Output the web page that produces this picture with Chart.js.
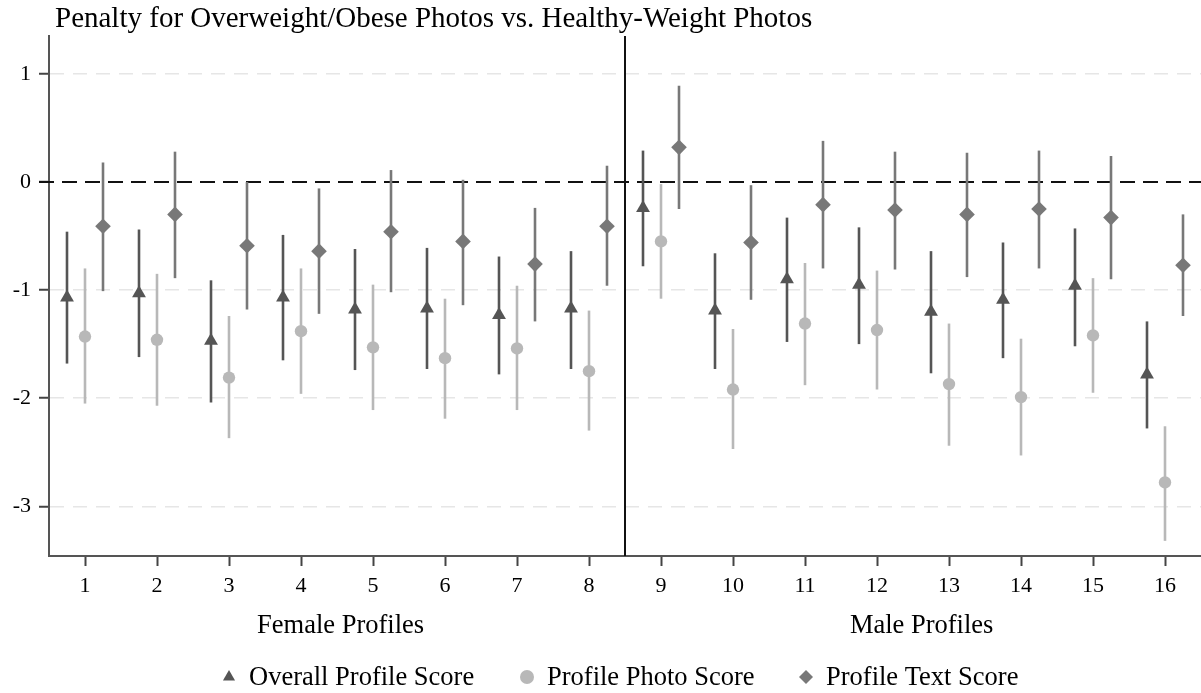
<!DOCTYPE html>
<html lang="en">
<head>
<meta charset="UTF-8">
<title>Penalty for Overweight/Obese Photos</title>
<script src="https://cdn.jsdelivr.net/npm/chart.js"></script>
<style>
  body { margin: 0; background: #fff; }
  .chart { width: 1201px; height: 693px; }
</style>
</head>
<body>
<div class="chart"><canvas id="myChart"></canvas></div>

<script>
  // profiles 1-8 female, 9-16 male
  const profiles = [1, 2, 3, 4, 5, 6, 7, 8, 9, 10, 11, 12, 13, 14, 15, 16];
  const yTicks = [1, 0, -1, -2, -3];

  const overall     = [-1.07, -1.03, -1.47, -1.07, -1.18, -1.17, -1.23, -1.17, -0.24, -1.19, -0.90, -0.95, -1.20, -1.09, -0.96, -1.78];
  const overallLow  = [-1.68, -1.62, -2.04, -1.65, -1.74, -1.73, -1.78, -1.73, -0.78, -1.73, -1.48, -1.50, -1.77, -1.63, -1.52, -2.28];
  const overallHigh = [-0.46, -0.44, -0.91, -0.49, -0.62, -0.61, -0.69, -0.64, 0.29, -0.66, -0.33, -0.42, -0.64, -0.56, -0.43, -1.29];

  const photo     = [-1.43, -1.46, -1.81, -1.38, -1.53, -1.63, -1.54, -1.75, -0.55, -1.92, -1.31, -1.37, -1.87, -1.99, -1.42, -2.78];
  const photoLow  = [-2.05, -2.07, -2.37, -1.96, -2.11, -2.19, -2.11, -2.30, -1.08, -2.47, -1.88, -1.92, -2.44, -2.53, -1.95, -3.32];
  const photoHigh = [-0.80, -0.85, -1.24, -0.80, -0.95, -1.08, -0.96, -1.19, -0.02, -1.36, -0.75, -0.82, -1.31, -1.45, -0.89, -2.26];

  const text     = [-0.41, -0.30, -0.59, -0.64, -0.46, -0.55, -0.76, -0.41, 0.32, -0.56, -0.21, -0.26, -0.30, -0.25, -0.33, -0.77];
  const textLow  = [-1.01, -0.89, -1.18, -1.22, -1.02, -1.14, -1.29, -0.96, -0.25, -1.09, -0.80, -0.81, -0.88, -0.80, -0.90, -1.24];
  const textHigh = [0.18, 0.28, 0.00, -0.06, 0.11, 0.02, -0.24, 0.15, 0.89, -0.03, 0.38, 0.28, 0.27, 0.29, 0.24, -0.30];

  const serif = '"Liberation Serif", "Times New Roman", serif';
  Chart.defaults.font.family = serif;

  function points(vals, lows, highs, shift) {
    return profiles.map((p, i) => ({ x: p + shift, y: vals[i], low: lows[i], high: highs[i] }));
  }

  const errorBars = {
    id: 'errorBars',
    beforeDatasetsDraw(chart) {
      const ctx = chart.ctx, x = chart.scales.x, y = chart.scales.y, area = chart.chartArea;
      ctx.save();
      // reference line at 0
      ctx.strokeStyle = '#111';
      ctx.lineWidth = 2;
      ctx.setLineDash([15, 8]);
      ctx.beginPath();
      ctx.moveTo(area.left - 10, y.getPixelForValue(0));
      ctx.lineTo(area.right, y.getPixelForValue(0));
      ctx.stroke();
      ctx.setLineDash([]);
      // female / male divider
      ctx.beginPath();
      ctx.moveTo(x.getPixelForValue(8.5), area.top);
      ctx.lineTo(x.getPixelForValue(8.5), area.bottom);
      ctx.stroke();
      // confidence intervals
      chart.data.datasets.forEach(ds => {
        ctx.strokeStyle = ds.borderColor;
        ctx.lineWidth = 2.6;
        ds.data.forEach(p => {
          const px = x.getPixelForValue(p.x);
          ctx.beginPath();
          ctx.moveTo(px, y.getPixelForValue(p.low));
          ctx.lineTo(px, y.getPixelForValue(p.high));
          ctx.stroke();
        });
      });
      ctx.restore();
    }
  };

  const labels = {
    id: 'labels',
    afterDraw(chart) {
      const ctx = chart.ctx, x = chart.scales.x;
      ctx.save();
      ctx.fillStyle = '#000';
      ctx.textBaseline = 'middle';
      ctx.font = '29px ' + serif;
      ctx.textAlign = 'left';
      ctx.fillText('Penalty for Overweight/Obese Photos vs. Healthy-Weight Photos', 55, 19);

      ctx.font = '26.5px ' + serif;
      ctx.textAlign = 'center';
      ctx.fillText('Female Profiles', x.getPixelForValue(4.55), 626);
      ctx.fillText('Male Profiles', x.getPixelForValue(12.62), 626);

      // legend
      const legendX = [229, 527, 806];
      ctx.textAlign = 'left';
      chart.data.datasets.forEach((ds, i) => {
        ctx.fillStyle = ds.backgroundColor;
        Chart.helpers.drawPoint(ctx, { pointStyle: ds.pointStyle, radius: 7, rotation: 0, borderWidth: 0 }, legendX[i], 677);
        ctx.fillStyle = '#000';
        ctx.fillText(ds.label, legendX[i] + 20, 678);
      });
      ctx.restore();
    }
  };

  const config = {
    type: 'scatter',
    data: {
      datasets: [{
        label: 'Overall Profile Score',
        data: points(overall, overallLow, overallHigh, -0.25),
        pointStyle: 'triangle',
        pointRadius: 8,
        backgroundColor: '#555555',
        borderColor: '#555555',
        borderWidth: 0
      }, {
        label: 'Profile Photo Score',
        data: points(photo, photoLow, photoHigh, 0),
        pointStyle: 'circle',
        pointRadius: 6.2,
        backgroundColor: '#b8b8b8',
        borderColor: '#b8b8b8',
        borderWidth: 0
      }, {
        label: 'Profile Text Score',
        data: points(text, textLow, textHigh, 0.25),
        pointStyle: 'rectRot',
        pointRadius: 7.8,
        backgroundColor: '#787878',
        borderColor: '#787878',
        borderWidth: 0
      }]
    },
    options: {
      responsive: true,
      maintainAspectRatio: false,
      animation: false,
      layout: { autoPadding: false, padding: { top: 36, right: 0, left: 0, bottom: 0 } },
      plugins: {
        legend: { display: false },
        tooltip: { enabled: false }
      },
      scales: {
        x: {
          type: 'linear',
          min: 0.5,
          max: 16.5,
          afterBuildTicks: s => { s.ticks = profiles.map(v => ({ value: v })); },
          afterFit: s => { s.height = 137; s.paddingLeft = 0; s.paddingRight = 0; },
          ticks: { font: { size: 22 }, color: '#000', padding: 7, maxRotation: 0, autoSkip: false },
          grid: { drawOnChartArea: false, tickLength: 10, tickColor: '#444', tickWidth: 2 },
          border: { color: '#555', width: 2 }
        },
        y: {
          min: -3.46,
          max: 1.35,
          afterBuildTicks: s => { s.ticks = yTicks.map(v => ({ value: v })); },
          afterFit: s => { s.width = 49; },
          ticks: { font: { size: 22 }, color: '#000', padding: 8 },
          grid: {
            color: c => c.tick && c.tick.value === 0 ? 'rgba(0,0,0,0)' : '#e6e6e6',
            lineWidth: 1.5,
            tickLength: 10,
            tickColor: '#444',
            tickWidth: 2
          },
          border: { color: '#555', width: 2, dash: [14, 9] }
        }
      }
    },
    plugins: [errorBars, labels]
  };

  const myChart = new Chart(document.getElementById('myChart'), config);
</script>
</body>
</html>
